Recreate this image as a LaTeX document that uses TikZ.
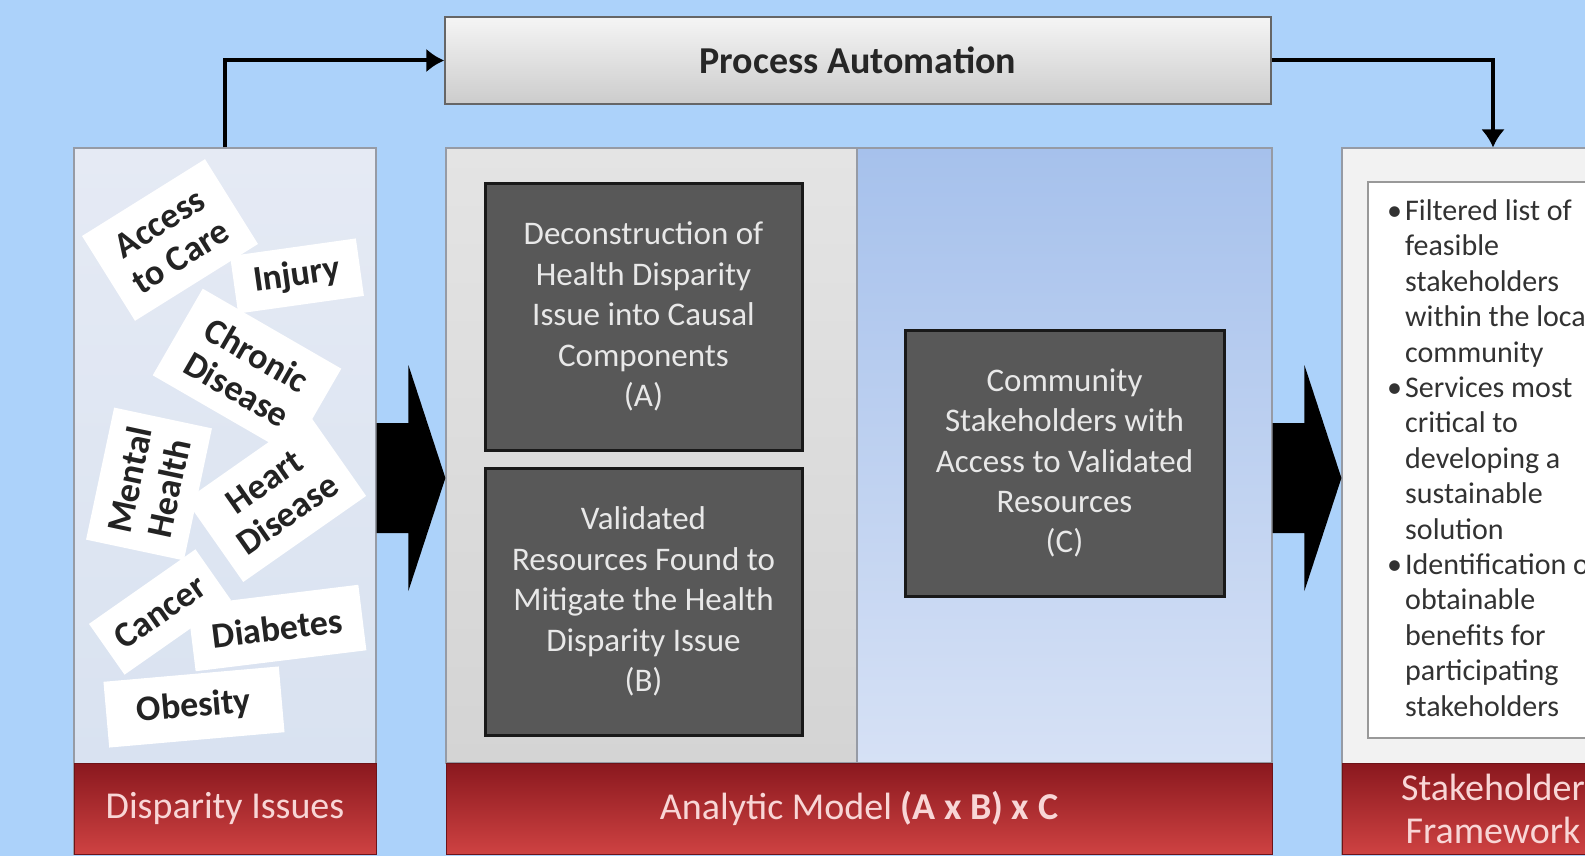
\documentclass[tikz,border=0pt]{standalone}
\usepackage{fontspec}
\setmainfont{Carlito}
\usetikzlibrary{arrows.meta,positioning,calc}

\definecolor{bgblue}{RGB}{172,210,250}
\definecolor{disTop}{RGB}{229,234,244}
\definecolor{disBot}{RGB}{215,225,240}
\definecolor{grayTop}{RGB}{228,228,228}
\definecolor{grayBot}{RGB}{212,212,212}
\definecolor{blueTop}{RGB}{166,193,236}
\definecolor{blueBot}{RGB}{214,225,245}
\definecolor{barTop}{RGB}{138,24,30}
\definecolor{barBot}{RGB}{206,66,66}
\definecolor{barText}{RGB}{248,214,214}
\definecolor{boxgray}{RGB}{88,88,88}
\definecolor{boxtext}{RGB}{232,232,232}
\definecolor{cardtext}{RGB}{35,35,35}
\definecolor{listtext}{RGB}{50,50,50}
\definecolor{edge}{RGB}{150,155,165}

\newcommand{\listpad}{\hspace*{18pt}}
\newcommand{\listdot}{\makebox[18pt][l]{\textbullet}}

\begin{document}
\begin{tikzpicture}[
		x=1pt, y=-1pt,
		panel/.style = {rectangle, draw=edge, line width=1.2pt, inner sep=0pt,
			minimum width=302pt, minimum height=706pt},
		bar/.style = {rectangle, top color=barTop, bottom color=barBot, draw=barTop!80!black,
			text=barText, font=\fontsize{38}{43}\selectfont, align=center,
			minimum height=91pt, inner sep=0pt},
		darkbox/.style = {rectangle, fill=boxgray, draw=black!90, line width=3pt,
			text=boxtext, font=\fontsize{33}{40.4}\selectfont, align=center,
			minimum width=317pt, minimum height=267pt, inner sep=0pt},
		card/.style = {rectangle, fill=white, text=cardtext, align=center, inner sep=0pt,
			font=\bfseries\fontsize{36}{40}\selectfont},
		line/.style = {draw, line width=4pt, -{Latex[length=18pt,width=24pt]}},
		bigarrow/.style = {fill=black},
	]
	\useasboundingbox (0,0) rectangle (1585,856);
	\clip (0,0) rectangle (1585,856);
	\fill[bgblue] (0,0) rectangle (1585,856);
	% Define nodes
	\begin{scope}
		\node [rectangle, top color=white!96!black, bottom color=black!20, draw=black!60, line width=1.5pt,
			minimum width=826pt, minimum height=87pt, text=black!85,
			font=\bfseries\fontsize{38}{44}\selectfont] (pa) at (858,60.5) {Process Automation};
		% disparity issues
		\node [panel, top color=disTop, bottom color=disBot] (dis) at (225,501) {};
		\node [bar, minimum width=302pt] (disbar) at (225,808.5) {Disparity Issues};
		\node [card, minimum width=145pt, minimum height=100pt, rotate=32] (access) at (170,240) {Access\\to Care};
		\node [card, minimum width=127pt, minimum height=58pt, rotate=8] (injury) at (297,276) {Injury};
		\node [card, minimum width=160pt, minimum height=100pt, rotate=-30] (chronic) at (247,372) {Chronic\\Disease};
		\node [card, minimum width=135pt, minimum height=100pt, rotate=78] (mental) at (149,484) {Mental\\Health};
		\node [card, minimum width=150pt, minimum height=100pt, rotate=35] (heart) at (276,498) {Heart\\Disease};
		\node [card, minimum width=130pt, minimum height=62pt, rotate=35] (cancer) at (160,612) {Cancer};
		\node [card, minimum width=172pt, minimum height=66pt, rotate=7] (diabetes) at (277,628) {Diabetes};
		\node [card, minimum width=176pt, minimum height=66pt, rotate=5] (obesity) at (194,707) {Obesity};
		% analytic model
		\node [panel, top color=grayTop, bottom color=grayBot, minimum width=411pt, minimum height=615pt] (anaL) at (651.5,455.5) {};
		\node [panel, top color=blueTop, bottom color=blueBot, minimum width=415pt, minimum height=615pt] (anaR) at (1064.5,455.5) {};
		\node [bar, minimum width=826pt] (anabar) at (859,808.5) {Analytic Model \textbf{(A x B) x C}};
		\node [darkbox] (boxA) at (643.5,316.5) {Deconstruction of\\Health Disparity\\Issue into Causal\\Components\\(A)};
		\node [darkbox] (boxB) at (643.5,601.5) {Validated\\Resources Found to\\Mitigate the Health\\Disparity Issue\\(B)};
		\node [darkbox, minimum width=319pt, minimum height=266pt] (boxC) at (1064.5,463) {Community\\Stakeholders with\\Access to Validated\\Resources\\(C)};
		% stakeholder framework
		\node [panel, fill=black!5] (stk) at (1493,501) {};
		\node [rectangle, fill=white, draw=black!40, line width=1.5pt, minimum width=250pt, minimum height=556pt] (stklist) at (1493,460) {};
		\node [anchor=west, align=left, inner sep=0pt, text=listtext, font=\fontsize{30}{35.4}\selectfont] (stktext) at (1387,458)
			{\listdot Filtered list of\\\listpad feasible\\\listpad stakeholders\\\listpad within the local\\\listpad community\\
			 \listdot Services most\\\listpad critical to\\\listpad developing a\\\listpad sustainable\\\listpad solution\\
			 \listdot Identification of\\\listpad obtainable\\\listpad benefits for\\\listpad participating\\\listpad stakeholders};
		\node [bar, minimum width=302pt] (stkbar) at (1493,808.5) {Stakeholder\\Framework};
	\end{scope}
	% connect all nodes defined above
	\begin{scope} [every path/.style=line]
		\path (dis.north) |- (pa.west);
		\path (pa.east) -| (stk.north);
	\end{scope}
	% block arrows between the panels
	\coordinate (la) at ([yshift=23pt]dis.east);
	\coordinate (lb) at ([yshift=-22.5pt]anaL.west);
	\fill[bigarrow] ($(la)+(0,-55)$) -- ($(lb)+(-37,-55)$) -- ($(lb)+(-37,-113)$) -- (lb)
		-- ($(lb)+(-37,113)$) -- ($(lb)+(-37,55)$) -- ($(la)+(0,55)$) -- cycle;
	\coordinate (ra) at ([yshift=-22.5pt]anaR.east);
	\coordinate (rb) at ([yshift=23pt]stk.west);
	\fill[bigarrow] ($(ra)+(0,-55)$) -- ($(rb)+(-37,-55)$) -- ($(rb)+(-37,-113)$) -- (rb)
		-- ($(rb)+(-37,113)$) -- ($(rb)+(-37,55)$) -- ($(ra)+(0,55)$) -- cycle;
\end{tikzpicture}
\end{document}
